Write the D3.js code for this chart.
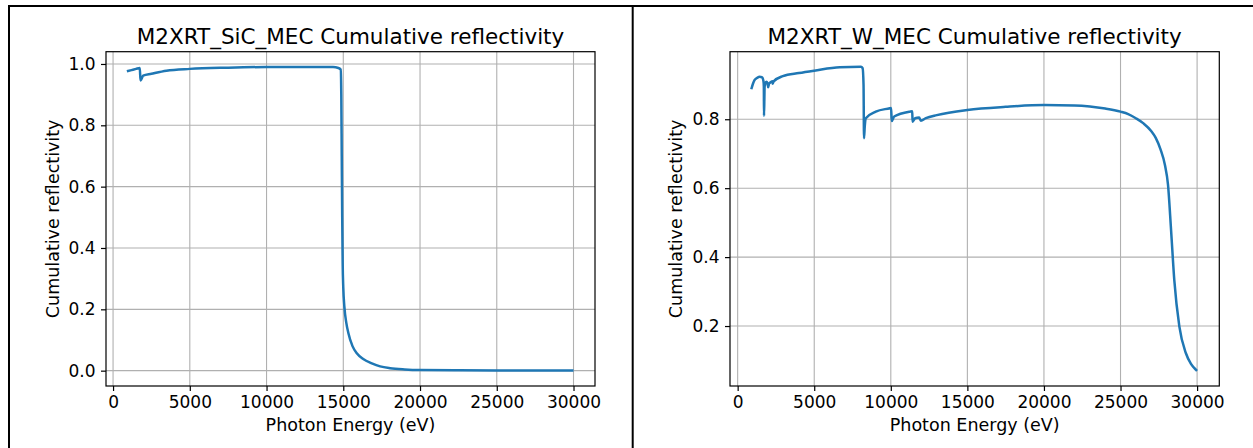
<!DOCTYPE html>
<html lang="en">
<head>
  <meta charset="utf-8">
  <title>M2XRT Cumulative reflectivity</title>
  <script src="https://d3js.org/d3.v7.min.js"></script>
  <style>
    body {
      margin: 0;
      background: #fff;
      font-family: 'DejaVu Sans', sans-serif;
    }
    .grid line {
      stroke: #b0b0b0;
      stroke-width: 1.1;
    }
    .axis path, .axis line {
      stroke: #000;
      stroke-width: 1.2;
    }
    .axis text {
      font-family: 'DejaVu Sans', sans-serif;
      font-size: 17px;
      fill: #000;
    }
    .curve {
      fill: none;
      stroke: #1f77b4;
      stroke-width: 2.5;
      stroke-linejoin: round;
    }
  </style>
</head>
<body>
  <svg id="chart" width="1253" height="448"></svg>
  <script>
    // SiC mirror data
    var sicEnergy = [900, 1200, 1500, 1740, 1790, 1840, 1960, 2500, 3480, 5000, 7500, 10000,
      14330, 14680, 14830, 14870, 14900, 14930, 14960, 15000, 15070, 15200, 15330, 15600,
      15880, 16300, 16860, 17400, 18050, 19000, 20000, 22500, 25000, 30000];
    var sicReflect = [0.976, 0.980, 0.984, 0.987, 0.946, 0.950, 0.962, 0.968, 0.978, 0.984, 0.988, 0.990,
      0.990, 0.987, 0.982, 0.90, 0.70, 0.50, 0.35, 0.27, 0.209, 0.155, 0.123, 0.08,
      0.057, 0.038, 0.024, 0.014, 0.008, 0.004, 0.002, 0.001, 0.0005, 0.0002];

    // W mirror data
    var wEnergy = [890, 1000, 1110, 1300, 1435, 1585, 1680, 1710, 1720, 1745, 1760, 1800, 1870,
      1950, 1990, 2050, 2200, 2270, 2290, 2350, 2950, 4000, 5000, 6670, 8050, 8160, 8220, 8250,
      8300, 8370, 9020, 9930, 10020, 10060, 10220, 11240, 11400, 11420, 11590, 11850, 11960,
      12290, 13000, 15000, 17500, 20000, 22000, 23000, 24000, 25000, 25500, 26000, 26500,
      27000, 27300, 27600, 27900, 28100, 28300, 28510, 28840, 29270, 29600, 29930, 30000];
    var wReflect = [0.887, 0.903, 0.914, 0.921, 0.923, 0.922, 0.912, 0.895, 0.810, 0.860, 0.895, 0.903, 0.909,
      0.905, 0.893, 0.903, 0.909, 0.910, 0.903, 0.910, 0.925, 0.934, 0.941, 0.951, 0.952, 0.948, 0.90, 0.745,
      0.78, 0.803, 0.822, 0.832, 0.833, 0.795, 0.808, 0.822, 0.823, 0.793, 0.803, 0.805, 0.796,
      0.803, 0.812, 0.827, 0.836, 0.841, 0.840, 0.837, 0.831, 0.822, 0.815, 0.803, 0.788,
      0.766, 0.746, 0.714, 0.667, 0.610, 0.479, 0.334, 0.199, 0.121, 0.09, 0.073, 0.07];

    var xTicks = [0, 5000, 10000, 15000, 20000, 25000, 30000];
    var sicYTicks = [0.0, 0.2, 0.4, 0.6, 0.8, 1.0];
    var wYTicks = [0.2, 0.4, 0.6, 0.8];

    var titles = ["M2XRT_SiC_MEC Cumulative reflectivity", "M2XRT_W_MEC Cumulative reflectivity"];
    var xLabel = "Photon Energy (eV)";
    var yLabel = "Cumulative reflectivity";

    var svg = d3.select("#chart");

    // outer frame
    svg.append("line").attr("x1", 8).attr("x2", 1253).attr("y1", 6).attr("y2", 6)
      .attr("stroke", "#000").attr("stroke-width", 2);
    svg.append("line").attr("x1", 9).attr("x2", 9).attr("y1", 5).attr("y2", 448)
      .attr("stroke", "#000").attr("stroke-width", 2);
    svg.append("line").attr("x1", 632.7).attr("x2", 632.7).attr("y1", 5).attr("y2", 448)
      .attr("stroke", "#000").attr("stroke-width", 2);

    function drawPanel(opts) {
      var box = opts.box;
      var width = box.right - box.left;
      var height = box.bottom - box.top;

      var g = svg.append("g")
        .attr("transform", "translate(" + box.left + "," + box.top + ")");

      var x = d3.scaleLinear().domain(opts.xDomain).range([0, width]);
      var y = d3.scaleLinear().domain(opts.yDomain).range([height, 0]);

      // grid
      var grid = g.append("g").attr("class", "grid");
      grid.selectAll(".vx").data(xTicks).enter().append("line")
        .attr("x1", function(d) { return x(d); })
        .attr("x2", function(d) { return x(d); })
        .attr("y1", 0).attr("y2", height);
      grid.selectAll(".hy").data(opts.yTicks).enter().append("line")
        .attr("y1", function(d) { return y(d); })
        .attr("y2", function(d) { return y(d); })
        .attr("x1", 0).attr("x2", width);

      // curve
      var pts = opts.xs.map(function(d, i) { return [d, opts.ys[i]]; });
      var line = d3.line()
        .x(function(d) { return x(d[0]); })
        .y(function(d) { return y(d[1]); })
        .curve(d3.curveMonotoneX);
      g.append("path").datum(pts).attr("class", "curve").attr("d", line);

      // axes
      g.append("g")
        .attr("class", "axis")
        .attr("transform", "translate(0," + height + ")")
        .call(d3.axisBottom(x).tickValues(xTicks).tickSize(5).tickPadding(5.2)
          .tickFormat(d3.format("d")))
        .call(function(a) { a.select(".domain").remove(); });

      g.append("g")
        .attr("class", "axis")
        .call(d3.axisLeft(y).tickValues(opts.yTicks).tickSize(5).tickPadding(5.5)
          .tickFormat(d3.format(".1f")))
        .call(function(a) { a.select(".domain").remove(); });

      // spines
      g.append("rect")
        .attr("x", 0).attr("y", 0).attr("width", width).attr("height", height)
        .attr("fill", "none").attr("stroke", "#000").attr("stroke-width", 1.2);

      // title
      g.append("text")
        .attr("x", width / 2).attr("y", 44.3 - box.top)
        .attr("text-anchor", "middle")
        .style("font-size", "21.5px")
        .text(opts.title);

      // x label
      g.append("text")
        .attr("x", width / 2).attr("y", 431 - box.top)
        .attr("text-anchor", "middle")
        .style("font-size", "17.5px")
        .text(xLabel);

      // y label
      g.append("text")
        .attr("transform", "translate(" + (opts.yLabelX - box.left) + "," + (height / 2) + ") rotate(-90)")
        .attr("text-anchor", "middle")
        .style("font-size", "17.5px")
        .text(yLabel);
    }

    drawPanel({
      box: { left: 106, right: 595, top: 51.7, bottom: 386 },
      xDomain: [-460, 31400],
      yDomain: [-0.050, 1.040],
      xs: sicEnergy, ys: sicReflect,
      yTicks: sicYTicks,
      title: titles[0],
      yLabelX: 58.5
    });

    drawPanel({
      box: { left: 730, right: 1219.3, top: 51.7, bottom: 386 },
      xDomain: [-500, 31450],
      yDomain: [0.026, 0.996],
      xs: wEnergy, ys: wReflect,
      yTicks: wYTicks,
      title: titles[1],
      yLabelX: 682
    });
  </script>
</body>
</html>
